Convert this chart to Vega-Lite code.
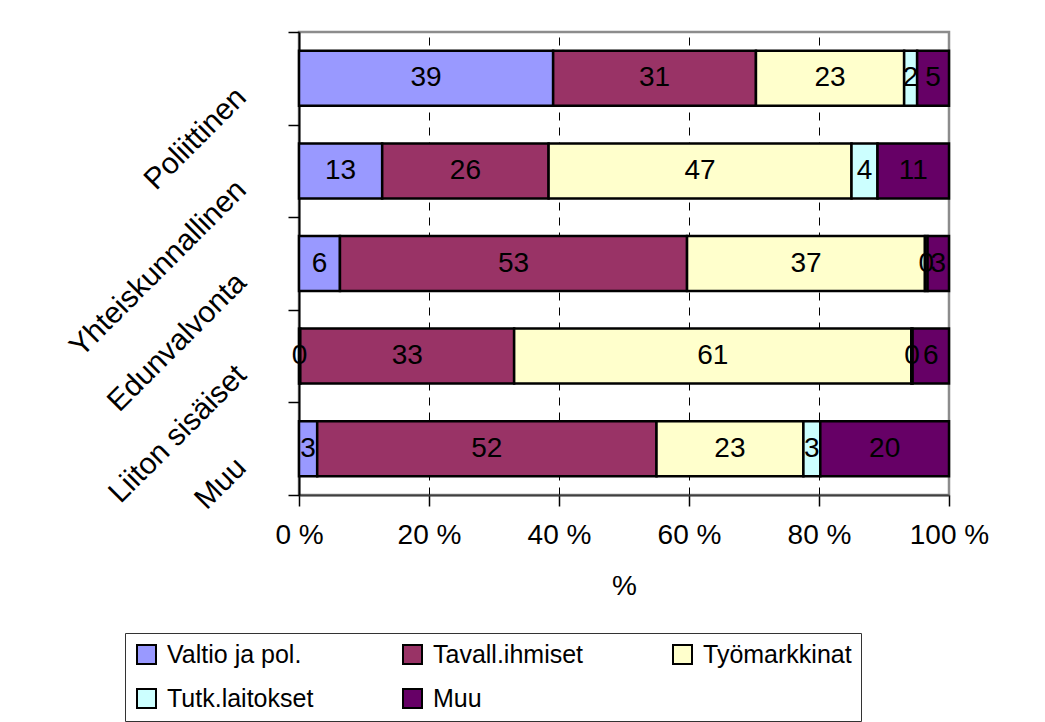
{
  "$schema": "https://vega.github.io/schema/vega-lite/v6.json",
  "width": 650,
  "height": 463,
  "autosize": {"type": "none"},
  "padding": {"left": 299, "top": 32, "right": 96, "bottom": 227},
  "background": "white",
  "config": {
    "view": {"stroke": "#8c8c8c", "strokeWidth": 2.5},
    "font": "Liberation Sans"
  },
  "data": {
    "values": [
      {"cat": "Poliittinen", "s": "Valtio ja pol.", "k": 1, "v": 39.1},
      {"cat": "Poliittinen", "s": "Tavall.ihmiset", "k": 2, "v": 31.2},
      {"cat": "Poliittinen", "s": "Työmarkkinat", "k": 3, "v": 22.8},
      {"cat": "Poliittinen", "s": "Tutk.laitokset", "k": 4, "v": 2.0},
      {"cat": "Poliittinen", "s": "Muu", "k": 5, "v": 4.9},
      {"cat": "Yhteiskunnallinen", "s": "Valtio ja pol.", "k": 1, "v": 12.8},
      {"cat": "Yhteiskunnallinen", "s": "Tavall.ihmiset", "k": 2, "v": 25.6},
      {"cat": "Yhteiskunnallinen", "s": "Työmarkkinat", "k": 3, "v": 46.6},
      {"cat": "Yhteiskunnallinen", "s": "Tutk.laitokset", "k": 4, "v": 4.0},
      {"cat": "Yhteiskunnallinen", "s": "Muu", "k": 5, "v": 11.0},
      {"cat": "Edunvalvonta", "s": "Valtio ja pol.", "k": 1, "v": 6.3},
      {"cat": "Edunvalvonta", "s": "Tavall.ihmiset", "k": 2, "v": 53.4},
      {"cat": "Edunvalvonta", "s": "Työmarkkinat", "k": 3, "v": 36.6},
      {"cat": "Edunvalvonta", "s": "Tutk.laitokset", "k": 4, "v": 0.4},
      {"cat": "Edunvalvonta", "s": "Muu", "k": 5, "v": 3.3},
      {"cat": "Liiton sisäiset", "s": "Valtio ja pol.", "k": 1, "v": 0.2},
      {"cat": "Liiton sisäiset", "s": "Tavall.ihmiset", "k": 2, "v": 32.9},
      {"cat": "Liiton sisäiset", "s": "Työmarkkinat", "k": 3, "v": 61.1},
      {"cat": "Liiton sisäiset", "s": "Tutk.laitokset", "k": 4, "v": 0.2},
      {"cat": "Liiton sisäiset", "s": "Muu", "k": 5, "v": 5.6},
      {"cat": "Muu", "s": "Valtio ja pol.", "k": 1, "v": 2.8},
      {"cat": "Muu", "s": "Tavall.ihmiset", "k": 2, "v": 52.2},
      {"cat": "Muu", "s": "Työmarkkinat", "k": 3, "v": 22.6},
      {"cat": "Muu", "s": "Tutk.laitokset", "k": 4, "v": 2.6},
      {"cat": "Muu", "s": "Muu", "k": 5, "v": 19.8}
    ]
  },
  "encoding": {
    "y": {
      "field": "cat",
      "type": "nominal",
      "sort": null,
      "scale": {"paddingInner": 0, "paddingOuter": 0},
      "axis": {
        "title": null,
        "domainColor": "black",
        "domainWidth": 2,
        "tickColor": "black",
        "tickWidth": 1.5,
        "tickSize": 11,
        "tickBand": "extent",
        "labelAngle": -45,
        "labelAlign": "right",
        "labelBaseline": "middle",
        "labelFontSize": 30,
        "labelFont": "Liberation Sans",
        "labelPadding": 47,
        "labelOffset": 14,
        "labelColor": "black",
        "labelLimit": 0
      }
    }
  },
  "layer": [
    {
      "mark": {"type": "bar", "height": {"band": 0.594}, "stroke": "black", "strokeWidth": 2.5},
      "encoding": {
        "x": {
          "field": "v",
          "type": "quantitative",
          "stack": "normalize",
          "scale": {"domain": [0, 1], "nice": false},
          "axis": {
            "values": [0, 0.2, 0.4, 0.6, 0.8, 1],
            "labelExpr": "round(datum.value*100) + ' %'",
            "labelFlush": false,
            "labelOverlap": false,
            "grid": true,
            "gridColor": "black",
            "gridDash": [8, 7],
            "gridWidth": 1,
            "gridOpacity": {"condition": {"test": "datum.value == 0 || datum.value == 1", "value": 0}, "value": 1},
            "domainColor": "#404040",
            "domainWidth": 2,
            "tickColor": "black",
            "tickSize": 11,
            "tickWidth": 1.5,
            "labelFontSize": 28,
            "labelFont": "Liberation Sans",
            "labelPadding": 15,
            "labelColor": "black",
            "title": "%",
            "titleFont": "Liberation Sans",
            "titleFontSize": 28,
            "titleFontWeight": "normal",
            "titleColor": "black",
            "titlePadding": 23
          }
        },
        "color": {
          "field": "s",
          "type": "nominal",
          "scale": {
            "domain": ["Valtio ja pol.", "Tavall.ihmiset", "Työmarkkinat", "Tutk.laitokset", "Muu"],
            "range": ["#9999FF", "#993366", "#FFFFCC", "#CCFFFF", "#660066"]
          },
          "legend": {
            "orient": "none",
            "legendX": -174,
            "legendY": 601,
            "direction": "horizontal",
            "columns": 3,
            "title": null,
            "symbolType": "square",
            "symbolSize": 361,
            "symbolStrokeColor": "black",
            "symbolStrokeWidth": 2,
            "labelFont": "Liberation Sans",
            "labelFontSize": 25,
            "labelColor": "black",
            "labelLimit": 0,
            "labelOffset": 8,
            "columnPadding": 85,
            "rowPadding": 17,
            "padding": 9,
            "strokeColor": "#333333",
            "fillColor": "white"
          }
        },
        "order": {"field": "k"}
      }
    },
    {
      "mark": {"type": "text", "fontSize": 28, "font": "Liberation Sans", "color": "black", "baseline": "middle", "align": "center"},
      "encoding": {
        "x": {"field": "v", "type": "quantitative", "stack": "normalize", "bandPosition": 0.5},
        "detail": {"field": "s"},
        "text": {"field": "v", "format": ".0f"},
        "order": {"field": "k"}
      }
    }
  ]
}
